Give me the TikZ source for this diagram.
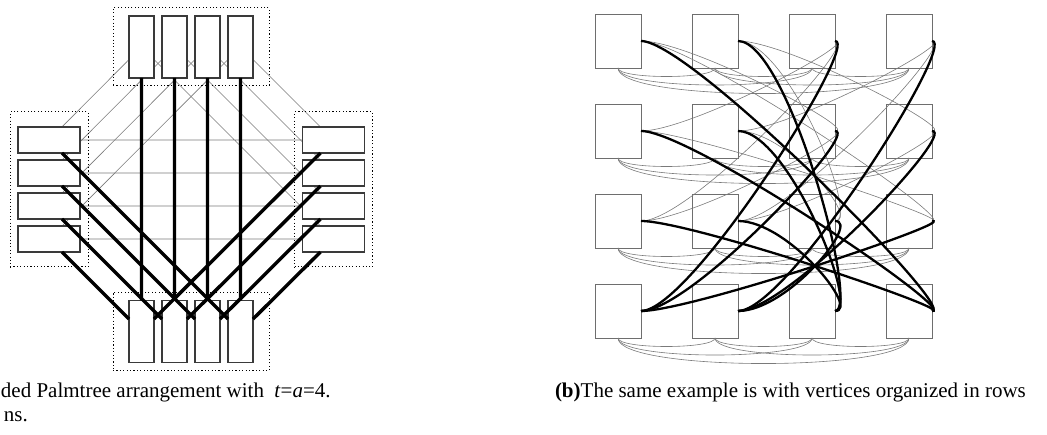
\documentclass[tikz,border=0pt]{standalone}
\usepackage{fontspec}
\setmainfont{Liberation Serif}
\usetikzlibrary{fit,backgrounds}
\definecolor{frame}{HTML}{3A3A3A}
\definecolor{edge}{HTML}{7A7A7A}
\definecolor{cellline}{HTML}{6E6E6E}

\begin{document}
\begin{tikzpicture}[x=1pt,y=-1pt, every node/.style={inner sep=0pt,outer sep=0pt}, vbox/.style={draw=frame,line width=1.2pt,fill=white,minimum width=25pt,minimum height=62pt}, hbox/.style={draw=frame,line width=1.2pt,fill=white,minimum width=62pt,minimum height=26pt}, dotbox/.style={draw,line width=1pt,dash pattern=on 1.1pt off 2.3pt}, light/.style={draw=edge,line width=0.6pt}, heavy/.style={line width=3.4pt}, strong/.style={line width=2.3pt}, cell/.style={draw=cellline,line width=0.8pt,minimum width=46pt,minimum height=54pt}, link/.style={out=0,in=0,out distance=50pt,in distance=26pt}, rowarc/.style={out=-90,in=-90,looseness=0.3}, caption/.style={anchor=base west,font=\fontsize{21}{23}\selectfont}]
\useasboundingbox (0,0) rectangle (1047,435);
\foreach \i/\x in {1/141.5,2/174.5,3/207.5,4/240.5}{\node[vbox] (t\i) at (\x,47) {}; \node[vbox] (b\i) at (\x,331.5) {};}
\foreach \i/\y in {1/140,2/173,3/206,4/239}{\node[hbox] (l\i) at (49,\y) {}; \node[hbox] (r\i) at (333.5,\y) {};}
\node[dotbox,fit=(t1)(t4),inner xsep=16pt,inner ysep=8pt] (top) {};
\node[dotbox,fit=(b1)(b4),inner xsep=16pt,inner ysep=8pt] (bottom) {};
\node[dotbox,fit=(l1)(l4),inner xsep=8pt,inner ysep=15pt] (left) {};
\node[dotbox,fit=(r1)(r4),inner xsep=8pt,inner ysep=15pt] (right) {};
\begin{scope}[on background layer]
\foreach \i in {1,...,4}{\pgfmathtruncatemacro\j{5-\i} \draw[light] (t\i.center)--(l\i.center) (t\i.center)--(r\j.center) (l\i.center)--(r\i.center);}
\end{scope}
\foreach \i in {1,...,4}{\pgfmathtruncatemacro\j{5-\i} \draw[heavy] (t\i)--(b\i) (l\i)--(b\j) (r\i)--(b\i);}
\foreach \r/\y in {1/41,2/131,3/221,4/311}{\foreach \c/\x in {1/618,2/715,3/812,4/909}{\node[cell] (v\r\c) at (\x,\y) {};}}
\foreach \r in {1,...,4}{\foreach \a/\b in {1/2,2/3,3/4,1/3,2/4,1/4}{\draw[light] (v\r\a.south) to[rowarc] (v\r\b.south);}}
\foreach \s/\t in {11/23,12/24,22/14,21/13,11/34,12/33,32/14,31/13,31/23,32/24,22/33,21/34}{\draw[light] (v\s.east) to[link] (v\t.east);}
\foreach \s/\t in {11/44,12/43,41/13,42/14,21/44,22/43,41/23,42/24,31/44,32/43,41/34,42/33}{\draw[strong] (v\s.east) to[link] (v\t.east);}
\node[caption] (capa) at (1,398) {ded Palmtree arrangement with \ \textit{t}=\textit{a}=4.};
\node[caption] (capa2) at (4,421) {ns.};
\node[caption] (capb) at (555,398) {\textbf{(b)}The same example is with vertices organized in rows};
\end{tikzpicture}
\end{document}
